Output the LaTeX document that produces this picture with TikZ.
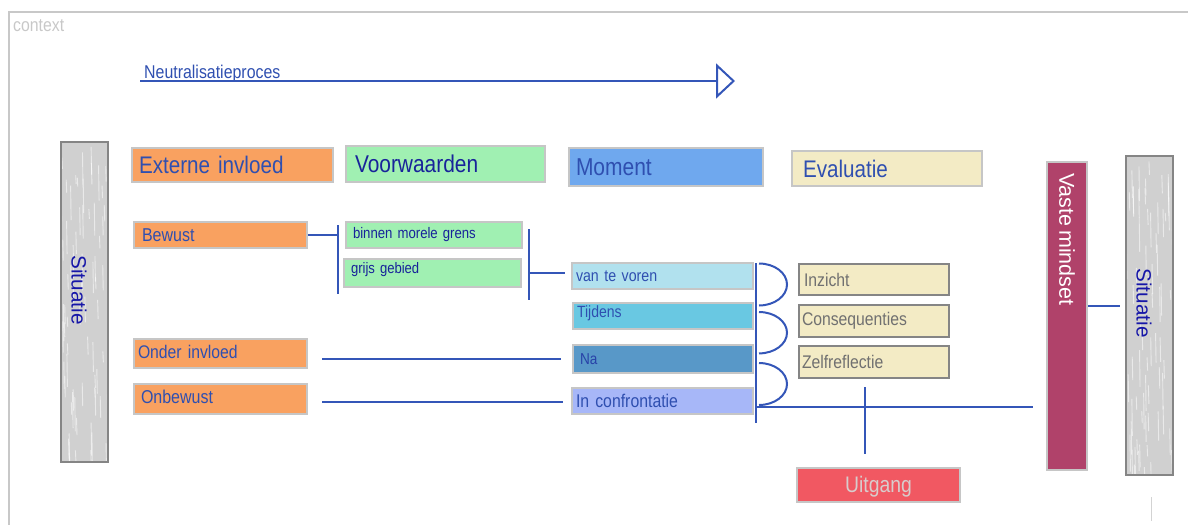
\documentclass[tikz,border=0pt]{standalone}
\usepackage{fontspec}
\setmainfont{Liberation Sans}[FakeStretch=0.86]
\newfontfamily\rotfont{Liberation Sans}
\usetikzlibrary{arrows.meta}
\definecolor{lnblue}{RGB}{52,86,184}
\definecolor{tblue}{RGB}{47,79,176}
\definecolor{tdark}{RGB}{24,35,154}
\definecolor{tsit}{RGB}{22,22,168}
\definecolor{tna}{RGB}{40,66,168}
\definecolor{tgray}{RGB}{112,112,112}
\definecolor{tlgray}{RGB}{216,204,204}
\definecolor{corange}{RGB}{249,161,96}
\definecolor{cgreen}{RGB}{160,240,178}
\definecolor{cmoment}{RGB}{111,168,238}
\definecolor{ccream}{RGB}{243,235,197}
\definecolor{cvtv}{RGB}{177,225,238}
\definecolor{ctijd}{RGB}{105,200,226}
\definecolor{cna}{RGB}{88,152,200}
\definecolor{cinc}{RGB}{167,183,248}
\definecolor{cvm}{RGB}{176,66,106}
\definecolor{cred}{RGB}{241,88,98}
\definecolor{csit}{RGB}{208,208,208}
\definecolor{lbordc}{RGB}{198,198,198}
\definecolor{dbordc}{RGB}{133,133,133}
\definecolor{framec}{RGB}{200,200,200}
\newcommand\fsz[1]{\fontsize{#1}{#1}\selectfont\spaceskip=0.17em\relax}
\newcommand\shiftup[2]{\raisebox{#1}[\height][\depth]{#2}}
\newcommand\diabox[8]{%
 \pgfmathsetmacro\dbw{#4-#2}%
 \pgfmathsetmacro\dbh{#5-#3}%
 \pgfmathsetmacro\dbt{#4-#2-2*#6}%
 \pgfmathsetmacro\dbx{(#2+#4)/2}%
 \pgfmathsetmacro\dby{(#3+#5)/2}%
 \node[inner xsep=#6pt, inner ysep=0pt, minimum width=\dbw pt, minimum height=\dbh pt, text width=\dbt pt, align=left, #7] (#1) at (\dbx,\dby) {#8};}
% texture streaks inside a bar: x1, y1, x2, y2
\newcommand\streaks[4]{%
 \begin{scope}
 \clip (#1,#2) rectangle (#3,#4);
 \foreach \k in {1,...,70}{%
   \pgfmathsetmacro\sx{#1+rnd*(#3-#1)}%
   \pgfmathsetmacro\sy{#2+rnd*(#4-#2)}%
   \pgfmathsetmacro\sl{8+rnd*30}%
   \draw[white, opacity=0.55, line width=0.9pt] (\sx,\sy) -- ++(0.5,\sl);
 }
 \end{scope}}
\begin{document}
\begin{tikzpicture}[x=1pt,y=-1pt,
  lbord/.style={draw=lbordc, line width=1.8pt},
  dbord/.style={draw=dbordc, line width=1.8pt},
  ln/.style={draw=lnblue, line width=2pt},
  rottext/.style={rotate=-90, inner sep=0pt, font=\rotfont\fsz{20.7}}]
\useasboundingbox (0,0) rectangle (1188,525);
\pgfmathsetseed{7}
% frame
\draw[framec, line width=2pt] (1188,12) -- (9,12) -- (9,525);
\draw[framec!80, line width=1pt] (1151,497) -- (1151,521);
\node[anchor=base west, inner sep=0pt, text=framec, font=\fsz{18.4}] (ctx) at (13,31) {context};
% process arrow
\node[anchor=base west, inner sep=0pt, text=tblue, font=\fsz{18.5}] (neut) at (144,78) {Neutralisatieproces};
\coordinate (arrS) at (140,81);
\coordinate (arrE) at (735,81);
\draw[ln, -{Triangle[open, length=19pt, width=35pt]}] (arrS) -- (arrE);
% situatie bars
\node[fill=csit, minimum width=47pt, minimum height=320pt, inner sep=0pt] (sitL) at (84.5,302) {};
\streaks{61}{142}{108}{462}
\draw[dbord] (sitL.north west) rectangle (sitL.south east);
\node[rottext, text=tsit] (sitLt) at (79,290) {Situatie};
\node[fill=csit, minimum width=47pt, minimum height=319pt, inner sep=0pt] (sitR) at (1149.5,315.5) {};
\streaks{1126}{156}{1173}{475}
\draw[dbord] (sitR.north west) rectangle (sitR.south east);
\node[rottext, text=tsit] (sitRt) at (1144,303) {Situatie};
\node[lbord, fill=cvm, minimum width=40pt, minimum height=308pt, inner sep=0pt] (vm) at (1067,316) {};
\node[rottext, anchor=west, text=white, font=\rotfont\fsz{21.5}] (vmt) at (1067,173) {Vaste mindset};
% headers
\diabox{ext}{132}{148}{333}{182}{7}{lbord,fill=corange,text=tblue,font=\fsz{24}}{Externe invloed}
\diabox{voor}{346}{146}{545}{182}{9}{lbord,fill=cgreen,text=tdark,font=\fsz{24.3}}{Voorwaarden}
\diabox{mom}{569}{148}{763}{186}{7}{lbord,fill=cmoment,text=tblue,font=\fsz{24.4}}{Moment}
\diabox{eval}{792}{151}{982}{186}{11}{lbord,fill=ccream,text=tblue,font=\fsz{24}}{Evaluatie}
% left column
\diabox{bew}{134}{222}{307}{248}{8}{lbord,fill=corange,text=tblue,font=\fsz{18.6}}{Bewust}
\diabox{onder}{134}{339}{307}{368}{4}{lbord,fill=corange,text=tblue,font=\fsz{18.3}}{\shiftup{2pt}{Onder invloed}}
\diabox{onbew}{134}{384}{307}{414}{7}{lbord,fill=corange,text=tblue,font=\fsz{18.6}}{\shiftup{2pt}{Onbewust}}
% voorwaarden
\diabox{binnen}{346}{222}{522}{248}{7}{lbord,fill=cgreen,text=tdark,font=\fsz{15.3}}{binnen morele grens}
\diabox{grijs}{344}{259}{521}{287}{7}{lbord,fill=cgreen,text=tdark,font=\fsz{15.2}}{\shiftup{3pt}{grijs gebied}}
% moment
\diabox{vtv}{572}{263}{753}{289}{4}{lbord,fill=cvtv,text=tblue,font=\fsz{16.5}}{van te voren}
\diabox{tijd}{573}{303}{753}{329}{4}{lbord,fill=ctijd,text=tblue,font=\fsz{16.3}}{\shiftup{3pt}{Tijdens}}
\diabox{na}{573}{345}{753}{373}{7}{lbord,fill=cna,text=tna,font=\fsz{15.8}}{Na}
\diabox{inc}{572}{388}{753}{414}{4}{lbord,fill=cinc,text=tblue,font=\fsz{18.4}}{In confrontatie}
% evaluatie
\diabox{inz}{799}{264}{949}{295}{5}{dbord,fill=ccream,text=tgray,font=\fsz{18.3}}{Inzicht}
\diabox{cons}{799}{305}{949}{337}{3}{dbord,fill=ccream,text=tgray,font=\fsz{18.3}}{Consequenties}
\diabox{zelf}{799}{346}{949}{378}{3}{dbord,fill=ccream,text=tgray,font=\fsz{18.3}}{Zelfreflectie}
\diabox{uit}{797}{468}{960}{502}{4}{lbord,fill=cred,text=tlgray,font=\fsz{22.5},align=center}{\shiftup{-2pt}{Uitgang}}
% connectors
\coordinate (br1t) at (338,225);
\coordinate (br1b) at (338,294);
\draw[ln] (bew.east) -- (bew.east -| br1t);
\draw[ln] (br1t) -- (br1b);
\coordinate (br2t) at (529,229);
\coordinate (br2b) at (529,300);
\coordinate (br2m) at (529,273);
\coordinate (br2e) at (565,273);
\draw[ln] (br2t) -- (br2b);
\draw[ln] (br2m) -- (br2e);
\coordinate (l1s) at (322,359);
\coordinate (l1e) at (561,359);
\draw[ln] (l1s) -- (l1e);
\coordinate (l2s) at (322,401.5);
\coordinate (l2e) at (563,401.5);
\draw[ln] (l2s) -- (l2e);
\coordinate (vt) at (756,263);
\coordinate (vb) at (756,423);
\draw[ln] (vt) -- (vb);
\coordinate (a1) at (759,263.5);
\coordinate (a2) at (759,312);
\coordinate (a3) at (759,363);
\draw[ln] (a1) arc[start angle=90, end angle=-90, x radius=28pt, y radius=21pt];
\draw[ln] (a2) arc[start angle=90, end angle=-90, x radius=28pt, y radius=20.7pt];
\draw[ln] (a3) arc[start angle=90, end angle=-90, x radius=28pt, y radius=21pt];
\coordinate (hs) at (756,407);
\coordinate (he) at (1033,407);
\draw[ln] (hs) -- (he);
\coordinate (ct) at (865,387);
\coordinate (cb) at (865,454);
\draw[ln] (ct) -- (cb);
\coordinate (ms) at (1088,306);
\coordinate (me) at (1120,306);
\draw[ln] (ms) -- (me);
\end{tikzpicture}
\end{document}
